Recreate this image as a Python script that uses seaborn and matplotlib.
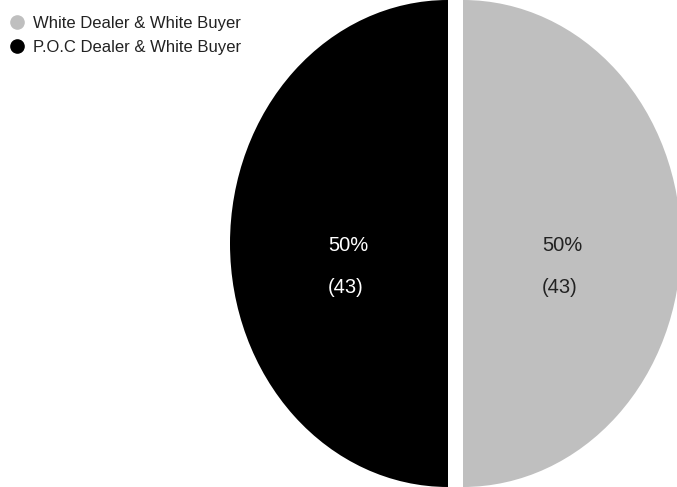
import matplotlib
matplotlib.use("Agg")
import matplotlib.pyplot as plt
from matplotlib.lines import Line2D
import seaborn as sns

# ---- data ----
categories = ["White Dealer & White Buyer", "P.O.C Dealer & White Buyer"]
counts = [43, 43]
colors = ["#bfbfbf", "#000000"]
label_colors = ["#222222", "#ffffff"]

sns.set_theme(style="white")
plt.rcParams["font.family"] = ["Liberation Sans", "DejaVu Sans"]

W, H = 677, 487
fig = plt.figure(figsize=(W / 100, H / 100), dpi=100)

# pie axes (elliptical pie, slightly exploded halves)
r_px = 218.0
cx_px = 455.5
ax_left_px = 228.0
ax = fig.add_axes([ax_left_px / W, 0, (W - ax_left_px) / W, 1])

wedges, texts, autotexts = ax.pie(
    counts,
    colors=colors,
    startangle=90,
    counterclock=False,
    explode=[0.0344, 0.0344],
    autopct=lambda p: f"{p:.0f}%",
    pctdistance=0.455,
    textprops=dict(fontsize=14.5, va="center_baseline"),
    wedgeprops=dict(linewidth=0),
)
ax.set_aspect("auto")
ax.set_xlim((ax_left_px - cx_px) / r_px, (W - cx_px) / r_px)
ax.set_ylim(-1, 1)
ax.axis("off")

for at, n, tc in zip(autotexts, counts, label_colors):
    at.set_color(tc)
    ax.annotate(f"({n})", xy=at.get_position(), xytext=(-2, -30),
                textcoords="offset points", ha="center", va="center_baseline",
                fontsize=14.5, color=tc)

handles = [Line2D([], [], marker="o", linestyle="", markersize=9.5,
                  markerfacecolor=c, markeredgecolor=c) for c in colors]
fig.legend(handles, categories, loc="upper left",
           bbox_to_anchor=(9 / W, 1 - 16 / H), frameon=False, fontsize=12,
           handlelength=1.0, handletextpad=0.45, labelspacing=0.55,
           borderpad=0, borderaxespad=0, labelcolor="#222222")

fig.savefig("out.png", dpi=100, facecolor="white")
